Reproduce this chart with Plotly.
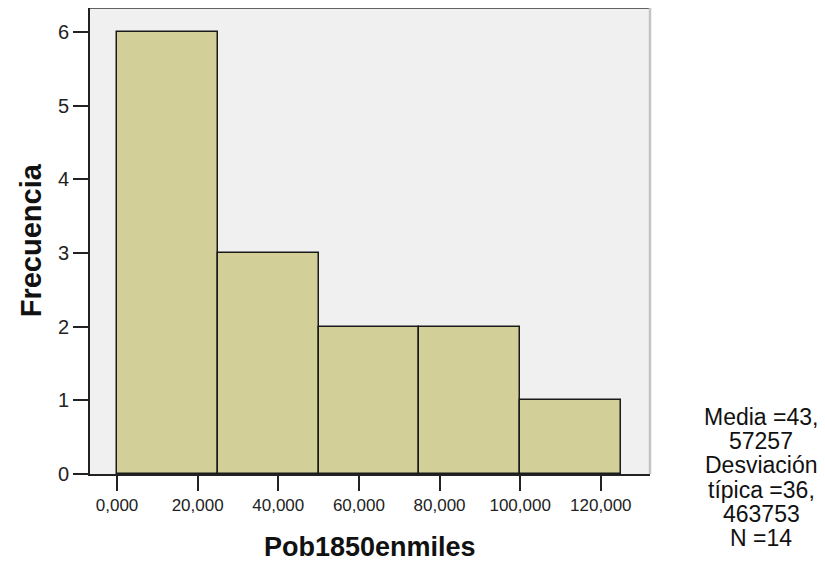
import plotly.graph_objects as go

bin_edges = [0, 25, 50, 75, 100, 125]
counts = [6, 3, 2, 2, 1]
x_ticks = [0, 20, 40, 60, 80, 100, 120]
x_tick_labels = ["0,000", "20,000", "40,000", "60,000", "80,000", "100,000", "120,000"]
y_ticks = [0, 1, 2, 3, 4, 5, 6]
stats_lines = ["Media =43,", "57257", "Desviación", "típica =36,", "463753", "N =14"]

centers = [(a + b) / 2 for a, b in zip(bin_edges[:-1], bin_edges[1:])]
widths = [b - a for a, b in zip(bin_edges[:-1], bin_edges[1:])]

FONT = "Liberation Sans, Arial, sans-serif"

fig = go.Figure(go.Bar(
    x=centers, y=counts, width=widths,
    marker=dict(color="#D3CF98", line=dict(color="#1a1a1a", width=1.5)),
    hoverinfo="skip",
))

# page body has an 8px margin, so the figure is sized to fit the 825x564 window
fig.update_layout(
    width=817, height=556,
    paper_bgcolor="white", plot_bgcolor="#F0F0F0",
    margin=dict(l=82, r=175, t=0, b=90, autoexpand=False),
    showlegend=False,
    font=dict(family=FONT, color="#222"),
    bargap=0,
)
fig.update_xaxes(
    range=[-6.7, 132.2], tickvals=x_ticks, ticktext=x_tick_labels,
    ticks="outside", ticklen=15, tickwidth=2, tickcolor="#222",
    showline=True, linecolor="#222", linewidth=2,
    showgrid=False, zeroline=False, automargin=False,
    tickfont=dict(size=17, color="#222"),
)
fig.update_yaxes(
    range=[0, 6.326], tickvals=y_ticks,
    ticks="outside", ticklen=15, tickwidth=2, tickcolor="#222",
    showline=True, linecolor="#222", linewidth=2,
    showgrid=False, zeroline=False, automargin=False,
    tickfont=dict(size=20, color="#222"),
)
fig.add_shape(type="line", xref="paper", yref="paper", x0=0, x1=1, y0=1, y1=1,
              line=dict(color="#333", width=1.5))
fig.add_shape(type="line", xref="paper", yref="paper", x0=1, x1=1, y0=0, y1=1,
              line=dict(color="#c4c4c4", width=2.5))

# axis titles
fig.add_annotation(text="<b>Frecuencia</b>", xref="paper", yref="paper",
                   x=-0.105, y=0.502, textangle=-90, showarrow=False,
                   xanchor="center", yanchor="middle",
                   font=dict(size=29, color="#111", family=FONT))
fig.add_annotation(text="<b>Pob1850enmiles</b>", xref="paper", yref="paper",
                   x=0.5, y=-0.157, showarrow=False,
                   xanchor="center", yanchor="middle",
                   font=dict(size=27, color="#111", family=FONT))

# statistics box, one line per annotation
for i, line in enumerate(stats_lines):
    sy = 417 + 24.2 * i
    fig.add_annotation(text=line, xref="paper", yref="paper",
                       x=(761 - 90) / 560, y=1 - (sy - 8) / 466,
                       showarrow=False, xanchor="center", yanchor="middle",
                       font=dict(size=23, color="#111", family=FONT))

fig.write_html("out.html")
